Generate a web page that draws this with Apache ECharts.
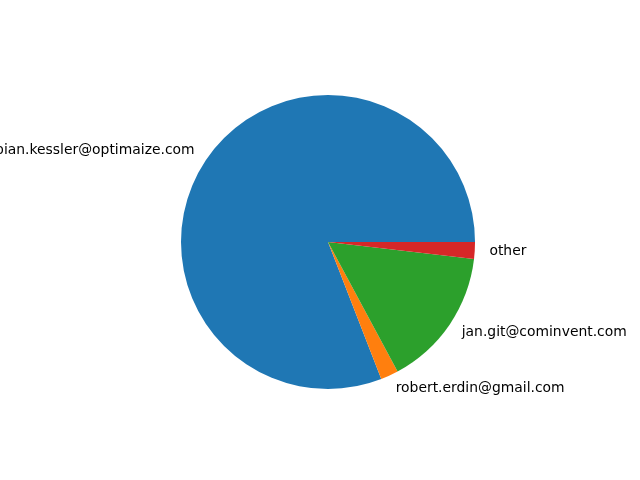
<!DOCTYPE html>
<html>
<head>
<meta charset="utf-8">
<script src="https://cdn.jsdelivr.net/npm/echarts@6/dist/echarts.min.js"></script>
<style>
  html, body { margin: 0; padding: 0; background: #fff; }
  #chart { width: 640px; height: 480px; }
</style>
</head>
<body>
<div id="chart"></div>
<script>
// 各作者提交占比（估读）
const names = ['fabian.kessler@optimaize.com', 'robert.erdin@gmail.com', 'jan.git@cominvent.com', 'other'];
const shares = [80.9, 1.95, 15.3, 1.85];
const colors = ['#1f77b4', '#ff7f0e', '#2ca02c', '#d62728'];

const R = 147;
const chart = echarts.init(document.getElementById('chart'), null, { renderer: 'canvas' });
chart.setOption({
  backgroundColor: '#ffffff',
  animation: false,
  series: [{
    type: 'pie',
    center: [328, 242],
    radius: [0, R],
    startAngle: 0,
    clockwise: false,
    avoidLabelOverlap: false,
    minShowLabelAngle: 0,
    data: names.map((n, i) => ({
      name: n,
      value: shares[i],
      itemStyle: { color: colors[i] }
    })),
    itemStyle: { borderWidth: 0 },
    label: {
      show: true,
      position: 'outside',
      formatter: '{b}',
      color: '#000',
      fontFamily: 'DejaVu Sans',
      fontSize: 13.9,
      distanceToLabelLine: 0,
      padding: [4, 0, 0, 0]
    },
    labelLine: { show: false, length: R * 0.1, length2: 0 },
    emphasis: { disabled: true }
  }]
});
</script>
</body>
</html>
